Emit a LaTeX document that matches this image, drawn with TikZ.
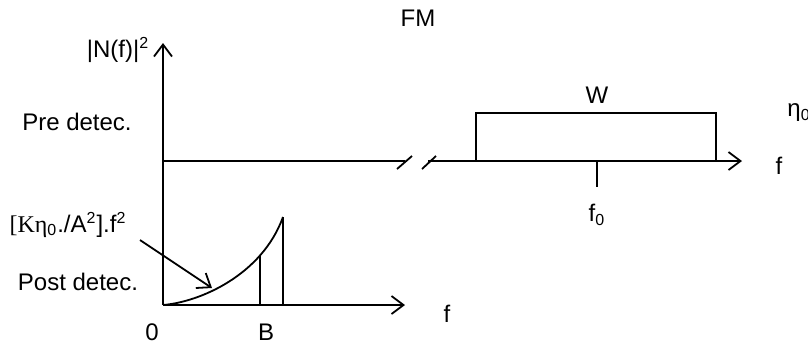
\documentclass[tikz,border=0pt]{standalone}
\usepackage{fontspec}
\setmainfont{Liberation Sans}
\newfontfamily\serfont{Liberation Serif}
\usepackage{tikz}
\usetikzlibrary{arrows.meta}

\tikzset{
  axis/.style={line width=0.9pt, -{Straight Barb[length=6pt,width=9pt,line width=0.9pt]}},
  plain/.style={line width=0.9pt},
  lbl/.style={font=\fontsize{12}{14}\selectfont, inner sep=1pt}
}

\begin{document}
\begin{tikzpicture}[x=0.5pt, y=-0.5pt]
      \useasboundingbox (0,0) rectangle (808,345);

      % Title
      \node[lbl] (fm) at (418,18) {FM};

      % Vertical axis
      \coordinate (o) at (163,305);
      \coordinate (top) at (163,43);
      \draw[axis] (o) -- (top);
      \node[lbl] (nf) at (118,50) {|N(f)|\textsuperscript{2}};

      % Pre detection axis with break
      \coordinate (pre0) at (163,161);
      \coordinate (brk1) at (405,161);
      \coordinate (brk2) at (428,161);
      \coordinate (pre1) at (742,161);
      \draw[plain] (pre0) -- (brk1);
      \draw[axis] (brk2) -- (pre1);
      \draw[plain] (397,169) -- (412,156);
      \draw[plain] (422,169) -- (436,156);
      \node[lbl] (pre) at (77,122) {Pre detec.};
      \node[lbl] (fpre) at (779,166) {f};

      % Noise band around carrier
      \draw[plain] (476,161) -- (476,113) -- (716,113) -- (716,161);
      \coordinate (tk) at (597,161);
      \coordinate (tkb) at (597,187);
      \draw[plain] (tk) -- (tkb);
      \node[lbl] (w) at (597,95) {W};
      \node[lbl] (f0) at (597,215) {f\textsubscript{0}};
      \node[lbl, anchor=west] (eta) at (785,113) {η\textsubscript{0}};

      % Post detection axis
      \coordinate (post1) at (405,305);
      \draw[axis] (o) -- (post1);
      \node[lbl] (fpost) at (447,314) {f};
      \node[lbl] (zero) at (152,332) {0};
      \node[lbl] (b) at (266,332) {B};
      \node[lbl] (post) at (78,282) {Post detec.};

      % Noise spectrum after detection
      \coordinate (ctop) at (283,217);
      \draw[plain] (o) .. controls (200,302) and (262,275) .. (ctop);
      \draw[plain] (260,305) -- (260,256);
      \draw[plain] (283,305) -- (ctop);

      % Label with pointer
      \node[lbl] (k) at (68,225) {{\serfont[Kη}\textsubscript{0}./A\textsuperscript{2}].f\textsuperscript{2}};
      \coordinate (kend) at (212,288);
      \draw[plain, -{Straight Barb[length=6pt,width=9pt,line width=0.9pt]}] (140,240) -- (kend);
  \end{tikzpicture}
\end{document}
